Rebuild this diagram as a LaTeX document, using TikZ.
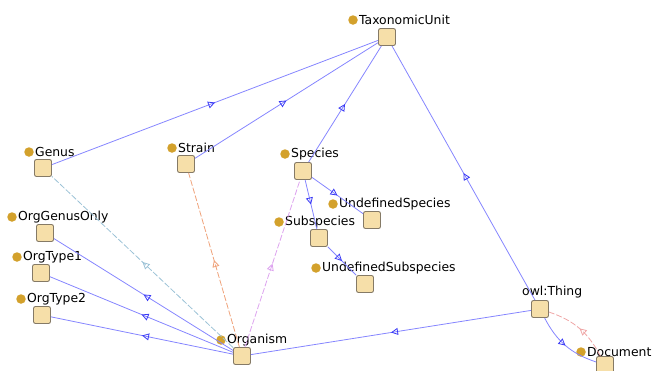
\documentclass[tikz,border=0pt]{standalone}
\usepackage{fontspec}
\setmainfont{DejaVu Sans}
\usetikzlibrary{positioning,arrows.meta,decorations.markings}

\definecolor{clsfill}{HTML}{F6DFA9}
\definecolor{clsdraw}{HTML}{857A66}
\definecolor{dotgold}{HTML}{D3A12C}
\definecolor{subline}{HTML}{8585FF}
\definecolor{subtip}{HTML}{3A3AF5}
\definecolor{genusline}{HTML}{9CC2D6}
\definecolor{strainline}{HTML}{EFA27A}
\definecolor{speciesline}{HTML}{DDA3EF}
\definecolor{docline}{HTML}{EFA6A6}

\begin{document}
\begin{tikzpicture}[
    x=1pt, y=-1pt,
    cls/.style={draw=clsdraw, fill=clsfill, line width=0.9pt, rounded corners=2pt, minimum size=17pt, inner sep=0pt},
    dot/.style={circle, fill=dotgold, minimum size=9.5pt, inner sep=0pt},
    lbl/.style={font=\fontsize{12.4}{15}\selectfont, inner sep=0pt, anchor=west},
    midtip/.style={postaction={decorate}, decoration={markings,
        mark=at position 0.5 with {\arrow[#1]{Triangle[open, length=7pt, width=7pt]}}}},
    subedge/.style={draw=subline, line width=0.8pt, midtip=subtip},
    dashedge/.style={draw=#1, line width=0.8pt, dash pattern=on 6pt off 2pt, midtip=#1}
]
    \useasboundingbox (0,0) rectangle (653,370);

    % classes
    \node[cls] (taxon) at (387,37) {};
    \node[cls] (genus) at (43,168) {};
    \node[cls] (strain) at (186,164) {};
    \node[cls] (species) at (303,171) {};
    \node[cls] (undefspecies) at (372,220) {};
    \node[cls] (subspecies) at (319,238) {};
    \node[cls] (undefsub) at (365,284) {};
    \node[cls] (orggenus) at (45,233) {};
    \node[cls] (orgtype1) at (41,273) {};
    \node[cls] (orgtype2) at (42,315) {};
    \node[cls] (organism) at (242,356) {};
    \node[cls] (thing) at (540,309) {};
    \node[cls] (document) at (605,365) {};

    % labels
    \node[dot] (taxon-dot) at (353,20) {};
    \node[lbl, right=1pt of taxon-dot] (taxon-lbl) {TaxonomicUnit};
    \node[dot] (genus-dot) at (29,152) {};
    \node[lbl, right=1pt of genus-dot] (genus-lbl) {Genus};
    \node[dot] (strain-dot) at (172,148) {};
    \node[lbl, right=1pt of strain-dot] (strain-lbl) {Strain};
    \node[dot] (species-dot) at (285,154) {};
    \node[lbl, right=1pt of species-dot] (species-lbl) {Species};
    \node[dot] (undefspecies-dot) at (333,204) {};
    \node[lbl, right=1pt of undefspecies-dot] (undefspecies-lbl) {UndefinedSpecies};
    \node[dot] (subspecies-dot) at (279,222) {};
    \node[lbl, right=1pt of subspecies-dot] (subspecies-lbl) {Subspecies};
    \node[dot] (undefsub-dot) at (316,268) {};
    \node[lbl, right=1pt of undefsub-dot] (undefsub-lbl) {UndefinedSubspecies};
    \node[dot] (orggenus-dot) at (12,217) {};
    \node[lbl, right=1pt of orggenus-dot] (orggenus-lbl) {OrgGenusOnly};
    \node[dot] (orgtype1-dot) at (17,257) {};
    \node[lbl, right=1pt of orgtype1-dot] (orgtype1-lbl) {OrgType1};
    \node[dot] (orgtype2-dot) at (21,299) {};
    \node[lbl, right=1pt of orgtype2-dot] (orgtype2-lbl) {OrgType2};
    \node[dot] (organism-dot) at (221,340) {};
    \node[lbl, right=1pt of organism-dot] (organism-lbl) {Organism};
    \node[lbl] (thing-lbl) at (522,292) {owl:Thing};
    \node[dot] (document-dot) at (581,352) {};
    \node[lbl, right=1pt of document-dot] (document-lbl) {Document};

    % subclass links
    \draw[subedge] (genus) -- (taxon);
    \draw[subedge] (strain) -- (taxon);
    \draw[subedge] (species) -- (taxon);
    \draw[subedge] (thing) -- (taxon);
    \draw[subedge] (species) -- (subspecies);
    \draw[subedge] (species) -- (undefspecies);
    \draw[subedge] (subspecies) -- (undefsub);
    \draw[subedge] (organism) -- (orggenus);
    \draw[subedge] (organism) -- (orgtype1);
    \draw[subedge] (organism) -- (orgtype2);
    \draw[subedge] (thing) -- (organism);
    \draw[subedge] (thing) to[bend right=22] (document);

    % other links
    \draw[dashedge=genusline] (organism) -- (genus);
    \draw[dashedge=strainline] (organism) -- (strain);
    \draw[dashedge=speciesline] (organism) -- (species);
    \draw[dashedge=docline] (document) to[bend right=22] (thing);
\end{tikzpicture}
\end{document}
